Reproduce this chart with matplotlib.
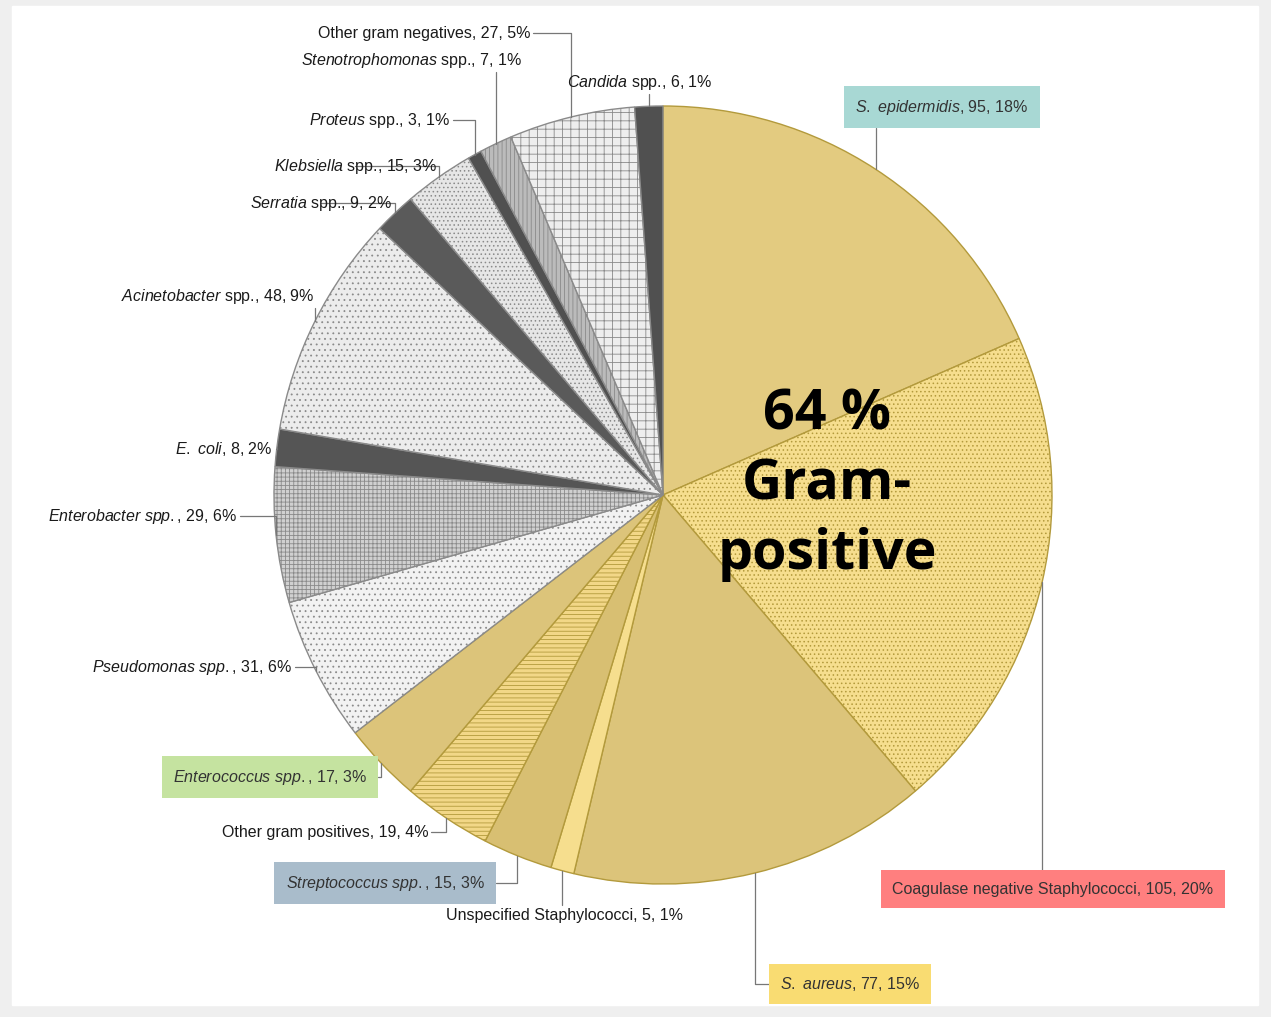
import numpy as np
import matplotlib.pyplot as plt

plt.rcParams['font.family'] = ['Liberation Sans', 'DejaVu Sans']
plt.rcParams['mathtext.fontset'] = 'custom'
plt.rcParams['mathtext.it'] = 'Liberation Sans:italic'
plt.rcParams['mathtext.rm'] = 'Liberation Sans'
plt.rcParams['hatch.linewidth'] = 0.6

# clockwise from 12 o'clock
names = [r"$\it{S.\ epidermidis}$", "Coagulase negative Staphylococci", r"$\it{S.\ aureus}$",
         "Unspecified Staphylococci", r"$\it{Streptococcus\ spp.}$", "Other gram positives",
         r"$\it{Enterococcus\ spp.}$", r"$\it{Pseudomonas\ spp.}$", r"$\it{Enterobacter\ spp.}$",
         r"$\it{E.\ coli}$", r"$\it{Acinetobacter}$ spp.", r"$\it{Serratia}$ spp.",
         r"$\it{Klebsiella}$ spp.", r"$\it{Proteus}$ spp.", r"$\it{Stenotrophomonas}$ spp.",
         "Other gram negatives", r"$\it{Candida}$ spp."]
counts = [95, 105, 77, 5, 15, 19, 17, 31, 29, 8, 48, 9, 15, 3, 7, 27, 6]
percents = [18, 20, 15, 1, 3, 4, 3, 6, 6, 2, 9, 2, 3, 1, 1, 5, 1]

colors = ['#e3cb80', '#f6de8e', '#dcc47a', '#f6de8e', '#d8bf72', '#f2d787', '#dcc47a',
          '#f2f2f2', '#d0d0d0', '#555555', '#ececec', '#5a5a5a', '#e6e6e6', '#505050',
          '#bbbbbb', '#eeeeee', '#505050']
hatches = ['', '....', '', '', '', '----', '', '...', '++++', '', '...', '', '....', '',
           '||||', '++', '']

# label positions in pixels: (x, y, ha, box colour)
label_pos = [(942, 107, 'center', '#a8d8d4'), (1053, 889, 'center', '#ff7f7f'),
             (850, 984, 'center', '#f9dc72'), (565, 915, 'center', None),
             (385, 883, 'center', '#a9bccb'), (325, 832, 'center', None),
             (270, 777, 'center', '#c5e3a0'), (292, 667, 'right', None),
             (237, 516, 'right', None), (273, 449, 'right', None),
             (315, 296, 'right', None), (392, 203, 'right', None),
             (437, 166, 'right', None), (450, 120, 'right', None),
             (522, 60, 'right', None), (530, 33, 'right', None),
             (567, 82, 'left', None)]

cx, cy, R = 663, 495, 389
W, H = 1271, 1017


def to_data(px, py):
    return (px - cx) / R, (cy - py) / R


fig = plt.figure(figsize=(W / 100, H / 100), dpi=100, facecolor='#efefef')
ax = fig.add_axes([0, 0, 1, 1])
ax.set_facecolor('#efefef')
x0, y0 = to_data(0, H)
x1, y1 = to_data(W, 0)
ax.set_aspect('equal', adjustable='datalim')
ax.axis('off')
px0, py1 = to_data(12, 1005)
px1, py0 = to_data(1258, 6)
ax.add_patch(plt.Rectangle((px0, py1), px1 - px0, py0 - py1, color='white', zorder=0))

wedges, _ = ax.pie(counts, startangle=90, counterclock=False, colors=colors,
                   wedgeprops=dict(linewidth=1.0))
ax.set_xlim(x0, x1)
ax.set_ylim(y0, y1)
for i, w in enumerate(wedges):
    w.set_hatch(hatches[i])
    w.set_edgecolor('#b39a3c' if i < 7 else '#8a8a8a')

total = sum(counts)
ang = 90.0
for i, w in enumerate(wedges):
    span = 360.0 * counts[i] / total
    mid = np.deg2rad(ang - span / 2)
    ang -= span
    px, py, ha, box = label_pos[i]
    tx, ty = to_data(px, py)
    txt = f"{names[i]}, {counts[i]}, {percents[i]}%"
    bbox = dict(boxstyle='square,pad=0.7', fc=box, ec='none') if box else None
    ax.annotate(txt, xy=(np.cos(mid), np.sin(mid)), xytext=(tx, ty), ha=ha, va='center',
                fontsize=11.5, color='#1a1a1a' if box is None else '#333333', bbox=bbox,
                arrowprops=dict(arrowstyle='-', color='#777777', lw=0.9,
                                connectionstyle='angle,angleA=0,angleB=90', shrinkA=0, shrinkB=0))

tx, ty = to_data(827, 485)
ax.text(tx, ty, "64 %\nGram-\npositive", ha='center', va='center', fontsize=40,
        fontweight='bold', linespacing=1.35, family=['Open Sans', 'DejaVu Sans'])

fig.savefig("out.png", dpi=100, facecolor=fig.get_facecolor())
